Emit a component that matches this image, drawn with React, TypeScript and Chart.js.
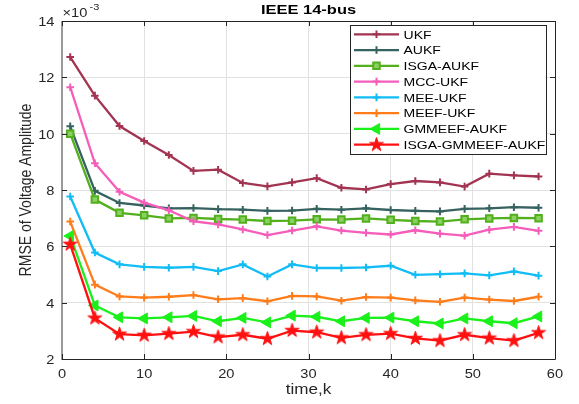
import React, { useEffect, useRef } from "react";
import { Chart, registerables } from "chart.js";
import { drawPoint } from "chart.js/helpers";

Chart.register(...registerables);

// Time steps (k) at which the RMSE was evaluated
const timeSteps = [1, 4, 7, 10, 13, 16, 19, 22, 25, 28, 31, 34, 37, 40, 43, 46, 49, 52, 55, 58];

// RMSE of voltage amplitude, in units of 1e-3
const ukf = [12.72, 11.35, 10.27, 9.74, 9.24, 8.68, 8.72, 8.25, 8.13, 8.27, 8.42, 8.08, 8.02, 8.21, 8.32, 8.27, 8.12, 8.58, 8.52, 8.48];
const aukf = [10.26, 7.97, 7.54, 7.45, 7.35, 7.36, 7.32, 7.3, 7.26, 7.27, 7.33, 7.3, 7.35, 7.29, 7.26, 7.24, 7.33, 7.35, 7.39, 7.37];
const isgaAukf = [10.0, 7.66, 7.19, 7.1, 6.99, 7.01, 6.97, 6.95, 6.9, 6.91, 6.96, 6.95, 6.99, 6.94, 6.9, 6.88, 6.96, 6.99, 7.01, 7.0];
const mccUkf = [11.65, 8.95, 7.94, 7.55, 7.28, 6.89, 6.78, 6.6, 6.4, 6.56, 6.71, 6.56, 6.48, 6.42, 6.57, 6.45, 6.38, 6.59, 6.69, 6.55];
const meeUkf = [7.77, 5.78, 5.36, 5.27, 5.24, 5.27, 5.12, 5.36, 4.93, 5.36, 5.23, 5.23, 5.25, 5.31, 4.99, 5.01, 5.04, 4.97, 5.11, 4.96];
const meefUkf = [6.88, 4.64, 4.22, 4.18, 4.21, 4.27, 4.12, 4.16, 4.05, 4.24, 4.22, 4.07, 4.2, 4.18, 4.08, 4.03, 4.18, 4.11, 4.06, 4.21];
const gmmeefAukf = [6.37, 3.9, 3.48, 3.44, 3.48, 3.53, 3.34, 3.46, 3.3, 3.54, 3.5, 3.34, 3.46, 3.47, 3.34, 3.26, 3.44, 3.34, 3.27, 3.51];
const isgaGmmeefAukf = [6.07, 3.45, 2.88, 2.84, 2.9, 2.97, 2.78, 2.86, 2.72, 3.01, 2.95, 2.75, 2.86, 2.9, 2.73, 2.65, 2.86, 2.74, 2.65, 2.93];

const seriesNames = ["UKF", "AUKF", "ISGA-AUKF", "MCC-UKF", "MEE-UKF", "MEEF-UKF", "GMMEEF-AUKF", "ISGA-GMMEEF-AUKF"];
const seriesValues = [ukf, aukf, isgaAukf, mccUkf, meeUkf, meefUkf, gmmeefAukf, isgaGmmeefAukf];
const seriesColors = ["#A23452", "#36625F", "#52B01C", "#F55DBA", "#12BDF5", "#FF7C1A", "#1AF01A", "#FF1010"];

const chartTitle = "IEEE 14-bus";
const xTitle = "time,k";
const yTitle = "RMSE of Voltage Amplitude";

const FONT = '"Liberation Sans", Arial, Helvetica, sans-serif';
const TEXT = "#262626";
const SX = 1.22; // horizontal widening applied to all text

function makeStar(outer: number, color: string): HTMLCanvasElement {
  const size = Math.ceil(outer * 2 + 4);
  const c = document.createElement("canvas");
  c.width = size;
  c.height = size;
  const g = c.getContext("2d")!;
  const cx = size / 2;
  const cy = size / 2;
  const inner = outer * 0.382;
  g.beginPath();
  for (let i = 0; i < 10; i++) {
    const r = i % 2 === 0 ? outer : inner;
    const a = -Math.PI / 2 + (i * Math.PI) / 5;
    const px = cx + r * Math.cos(a);
    const py = cy + r * Math.sin(a);
    if (i === 0) g.moveTo(px, py);
    else g.lineTo(px, py);
  }
  g.closePath();
  g.fillStyle = color;
  g.fill();
  g.strokeStyle = color;
  g.lineWidth = 1;
  g.stroke();
  return c;
}

function text(
  ctx: CanvasRenderingContext2D,
  s: string,
  x: number,
  y: number,
  font: string,
  align: CanvasTextAlign,
  baseline: CanvasTextBaseline,
  color: string,
  rotate = false
) {
  ctx.save();
  ctx.translate(x, y);
  ctx.scale(SX, 1);
  if (rotate) ctx.rotate(-Math.PI / 2);
  ctx.font = font;
  ctx.textAlign = align;
  ctx.textBaseline = baseline;
  ctx.fillStyle = color;
  ctx.fillText(s, 0, 0);
  ctx.restore();
}

export default function App() {
  const ref = useRef<HTMLCanvasElement | null>(null);

  useEffect(() => {
    document.body.style.margin = "0";
    const canvas = ref.current;
    if (!canvas) return;

    const star = makeStar(7.3, seriesColors[7]);

    const markerFor = (i: number) => {
      const color = seriesColors[i];
      if (i === 2)
        return { pointStyle: "rect", pointRadius: 4.6, pointBorderWidth: 2, pointBackgroundColor: "#8bd062", pointBorderColor: color, pointRotation: 0 };
      if (i === 6)
        return { pointStyle: "triangle", pointRadius: 6.3, pointBorderWidth: 1, pointBackgroundColor: color, pointBorderColor: color, pointRotation: -90 };
      if (i === 7)
        return { pointStyle: star, pointRadius: 7, pointBorderWidth: 0, pointBackgroundColor: color, pointBorderColor: color, pointRotation: 0 };
      return { pointStyle: "cross", pointRadius: 3.8, pointBorderWidth: 2, pointBackgroundColor: color, pointBorderColor: color, pointRotation: 0 };
    };

    const datasets = seriesNames.map((name, i) => ({
      label: name,
      data: timeSteps.map((t, j) => ({ x: t, y: seriesValues[i][j] })),
      borderColor: seriesColors[i],
      backgroundColor: seriesColors[i],
      borderWidth: 2.3,
      tension: 0,
      fill: false,
      order: seriesNames.length - i,
      ...markerFor(i),
    }));

    const decorations = {
      id: "decorations",
      afterDraw(chart: any) {
        const ctx: CanvasRenderingContext2D = chart.ctx;
        const { left, right, top, bottom } = chart.chartArea;
        const xs = chart.scales.x;
        const ys = chart.scales.y;
        const tickLen = 5;

        ctx.save();
        // axes box
        ctx.lineWidth = 1;
        ctx.strokeStyle = TEXT;
        ctx.beginPath();
        ctx.moveTo(left, top + 0.5);
        ctx.lineTo(right + 0.5, top + 0.5);
        ctx.lineTo(right + 0.5, bottom + 0.5);
        ctx.lineTo(left, bottom + 0.5);
        ctx.stroke();
        ctx.strokeStyle = "#9a9a9a";
        ctx.lineWidth = 2;
        ctx.beginPath();
        ctx.moveTo(left, top);
        ctx.lineTo(left, bottom + 1);
        ctx.stroke();

        // inward ticks
        ctx.strokeStyle = TEXT;
        ctx.lineWidth = 1;
        ctx.beginPath();
        xs.ticks.forEach((t: any) => {
          const px = Math.round(xs.getPixelForValue(t.value)) + 0.5;
          ctx.moveTo(px, bottom);
          ctx.lineTo(px, bottom - tickLen);
          ctx.moveTo(px, top);
          ctx.lineTo(px, top + tickLen);
        });
        ys.ticks.forEach((t: any) => {
          const py = Math.round(ys.getPixelForValue(t.value)) + 0.5;
          ctx.moveTo(left, py);
          ctx.lineTo(left + tickLen, py);
          ctx.moveTo(right, py);
          ctx.lineTo(right - tickLen, py);
        });
        ctx.stroke();

        // tick labels
        const tickFont = `12px ${FONT}`;
        xs.ticks.forEach((t: any) => {
          text(ctx, String(t.value), xs.getPixelForValue(t.value), bottom + 19.3, tickFont, "center", "alphabetic", TEXT);
        });
        ys.ticks.forEach((t: any) => {
          text(ctx, String(t.value), left - 7.5, ys.getPixelForValue(t.value) + 5, tickFont, "right", "alphabetic", TEXT);
        });

        // exponent of the y axis
        text(ctx, "\u00d710", left + 0.5, 16.5, `12px ${FONT}`, "left", "alphabetic", TEXT);
        text(ctx, "-3", left + 27.5, 10.3, `9px ${FONT}`, "left", "alphabetic", TEXT);

        // titles
        const cx = (left + right) / 2;
        text(ctx, chartTitle, cx, 14, `bold 13.5px ${FONT}`, "center", "alphabetic", "#000");
        text(ctx, xTitle, cx, 393.5, `14px ${FONT}`, "center", "alphabetic", TEXT);
        text(ctx, yTitle, 30.5, (top + bottom) / 2, `14px ${FONT}`, "center", "alphabetic", TEXT, true);

        // legend
        const lx = 350.5;
        const ly = 25.5;
        const lw = 196;
        const lh = 129;
        ctx.fillStyle = "#fff";
        ctx.fillRect(lx, ly, lw, lh);
        ctx.strokeStyle = TEXT;
        ctx.lineWidth = 1;
        ctx.strokeRect(lx, ly, lw, lh);
        chart.data.datasets.forEach((ds: any, i: number) => {
          const y = 34.3 + i * 15.77;
          ctx.strokeStyle = ds.borderColor;
          ctx.lineWidth = 2.3;
          ctx.beginPath();
          ctx.moveTo(354, y);
          ctx.lineTo(399, y);
          ctx.stroke();
          ctx.fillStyle = ds.pointBackgroundColor;
          ctx.strokeStyle = ds.pointBorderColor;
          ctx.lineWidth = ds.pointBorderWidth;
          drawPoint(ctx, { pointStyle: ds.pointStyle, rotation: ds.pointRotation, radius: ds.pointRadius, borderWidth: ds.pointBorderWidth } as any, 376.5, y);
          text(ctx, ds.label, 403.5, y + 4.2, `11.5px ${FONT}`, "left", "alphabetic", "#000");
        });
        ctx.restore();
      },
    };

    const chart = new Chart(canvas, {
      type: "line",
      data: { datasets: datasets as any },
      options: {
        responsive: false,
        animation: false,
        layout: { padding: { left: 0, right: 24, top: 21, bottom: 0 } },
        plugins: { legend: { display: false }, title: { display: false }, tooltip: { enabled: false } },
        scales: {
          x: {
            type: "linear",
            min: 0,
            max: 60,
            ticks: { stepSize: 10, display: false },
            grid: { color: "#E2E2E2", lineWidth: 1, drawTicks: false },
            border: { display: false },
            afterFit: (s: any) => {
              s.height = 45;
            },
          },
          y: {
            type: "linear",
            min: 2,
            max: 14,
            ticks: { stepSize: 2, display: false },
            grid: { color: "#E2E2E2", lineWidth: 1, drawTicks: false },
            border: { display: false },
            afterFit: (s: any) => {
              s.width = 62;
            },
          },
        },
      },
      plugins: [decorations],
    });

    return () => chart.destroy();
  }, []);

  return <canvas ref={ref} width={579} height={404} style={{ display: "block", width: 579, height: 404 }} />;
}
